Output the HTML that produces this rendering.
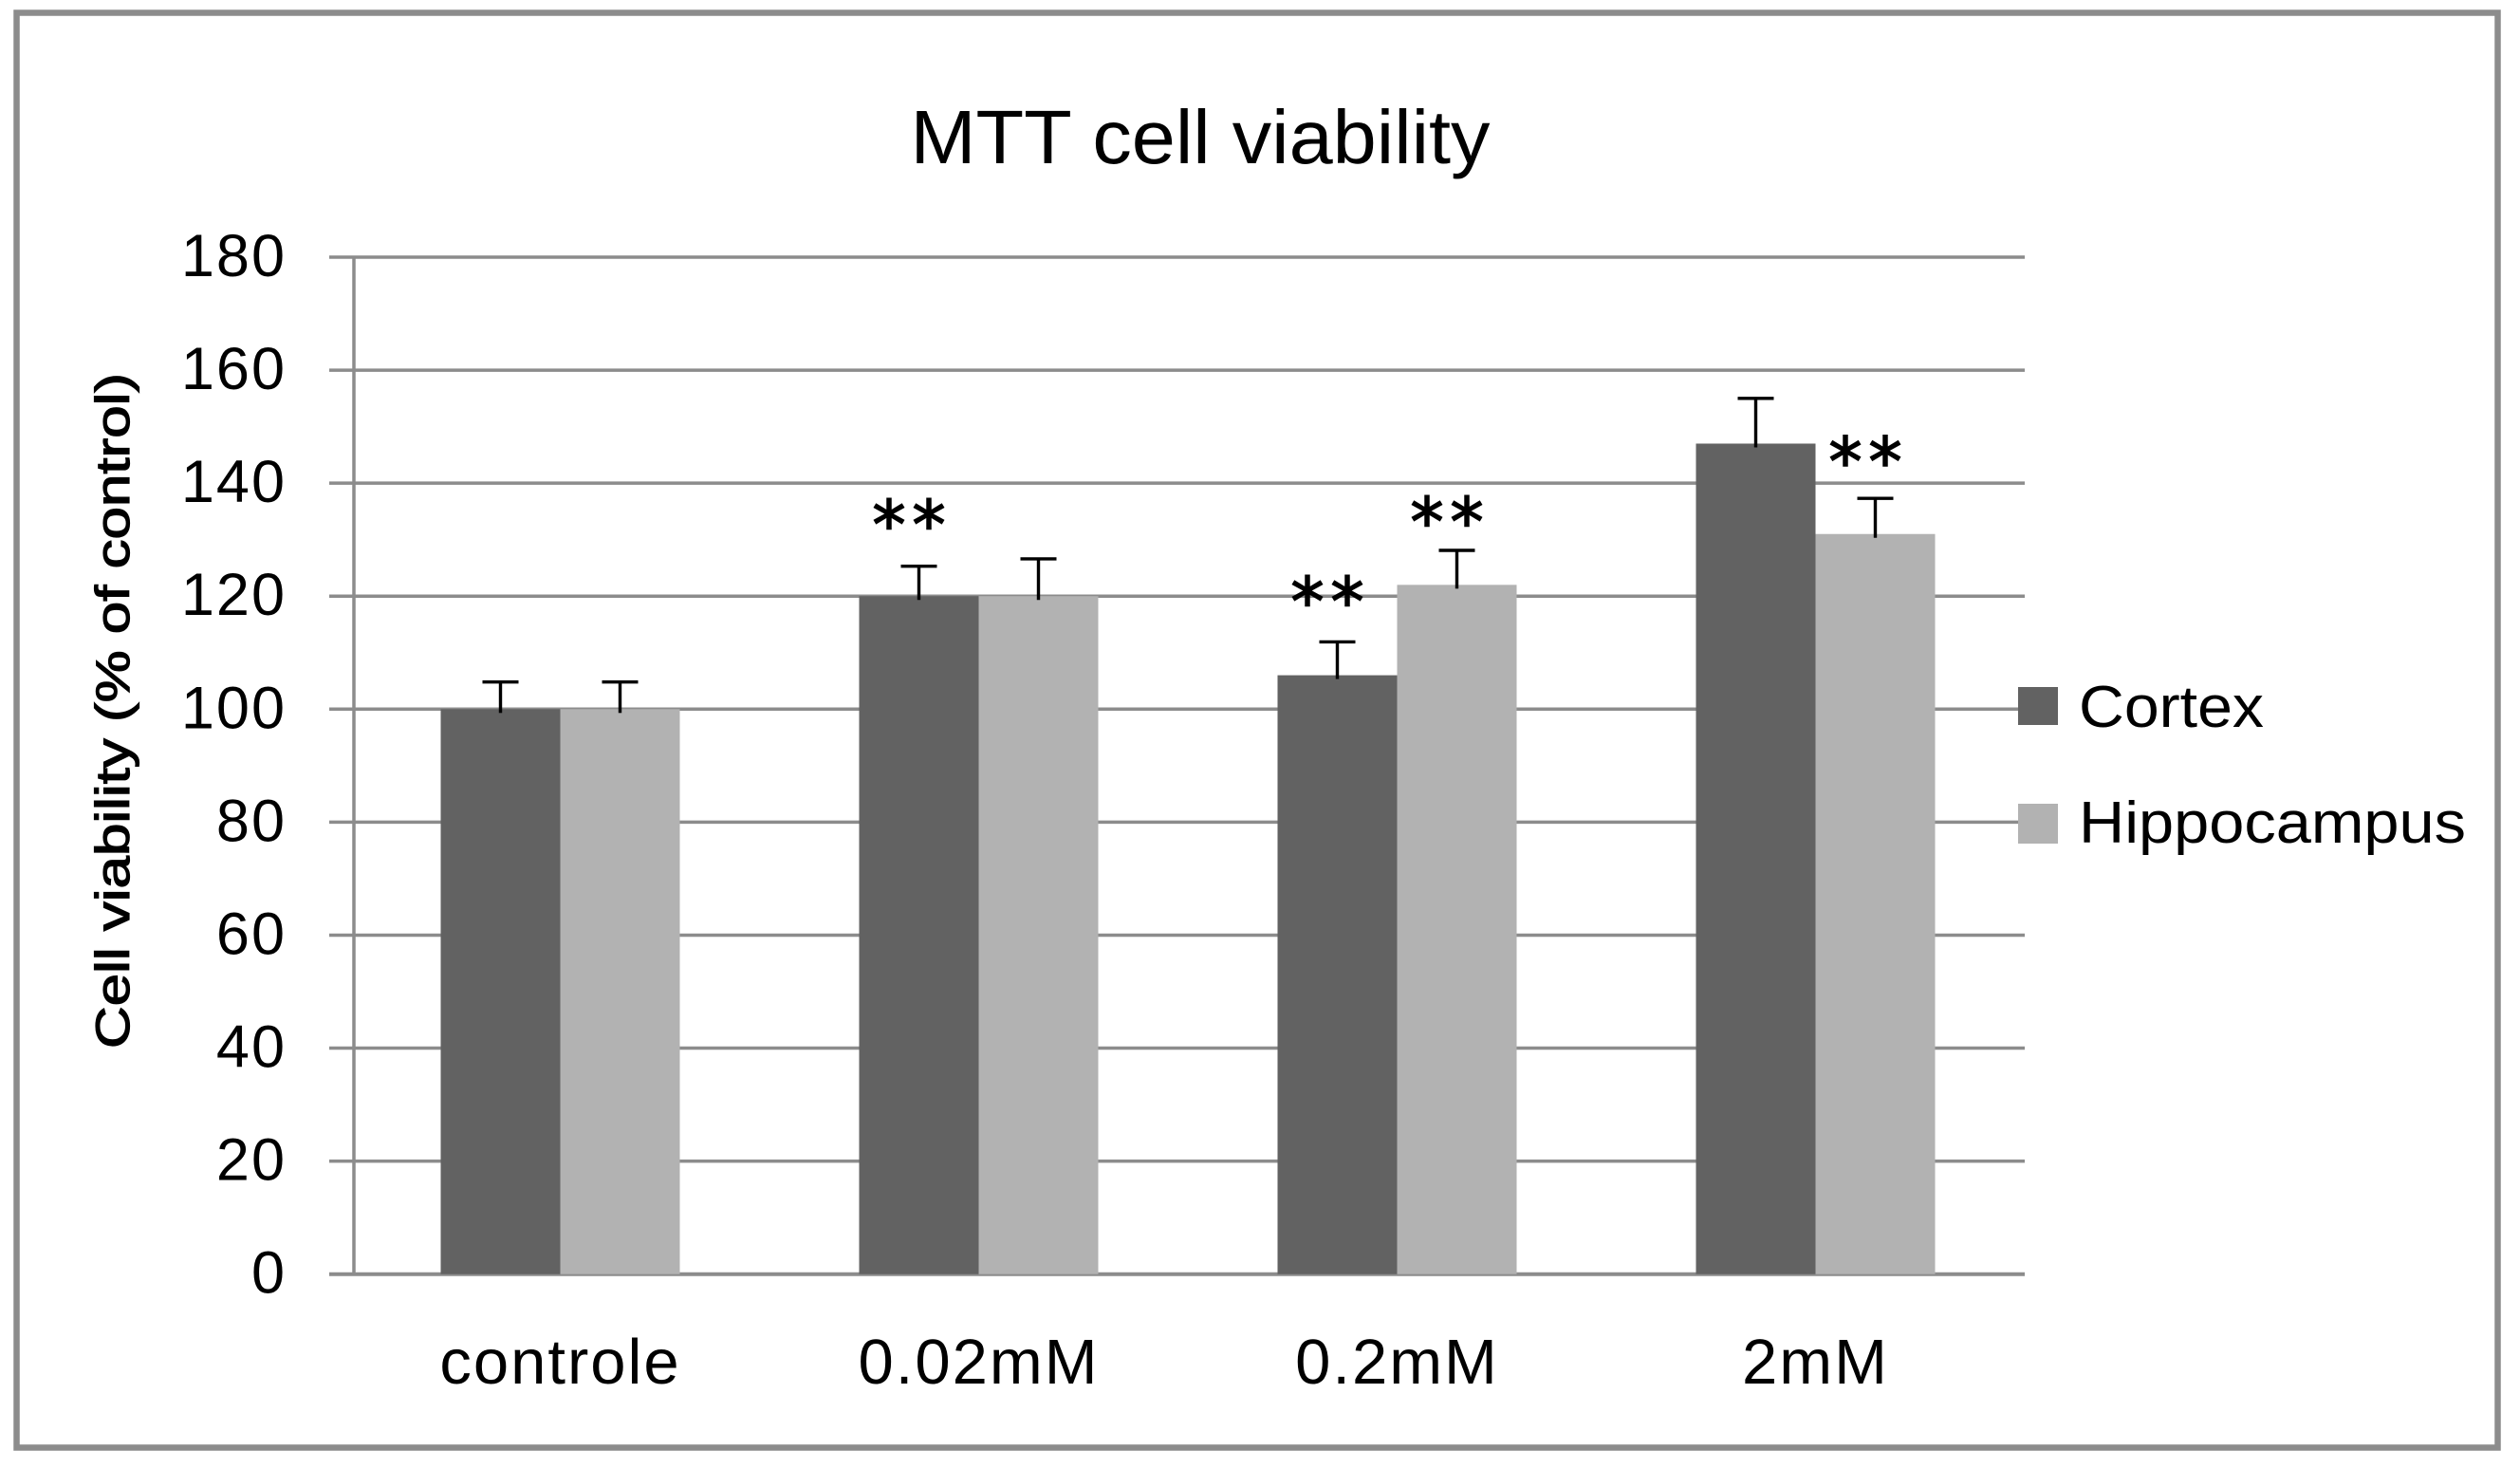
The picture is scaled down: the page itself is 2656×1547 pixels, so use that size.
<!DOCTYPE html>
<html lang="en">
<head>
<meta charset="utf-8">
<title>MTT cell viability</title>
<style>
  html, body { margin: 0; padding: 0; background: #fff; }
  svg { display: block; }
  text { font-family: "Liberation Sans", sans-serif; fill: #000; }
</style>
</head>
<body>
<svg id="chart" xmlns="http://www.w3.org/2000/svg" width="2656" height="1547" viewBox="0 0 2656 1547">
  <rect x="17.5" y="13.5" width="2615" height="1512" fill="#fff" stroke="#8c8c8c" stroke-width="6.5"/>
  <text x="1265" y="172" font-size="80" text-anchor="middle" textLength="611" lengthAdjust="spacingAndGlyphs">MTT cell viability</text>
  <text transform="translate(136 749) rotate(-90)" font-size="50" stroke="#000" stroke-width="1.2" text-anchor="middle" textLength="712" lengthAdjust="spacingAndGlyphs">Cell viability (% of control)</text>
  <g id="grid"></g>
  <g id="yticks"></g>
  <g id="bars"></g>
  <g id="errors"></g>
  <g id="marks"></g>
  <g id="xticks"></g>
  <g>
    <rect x="2127" y="724" width="42" height="40" fill="#626262"/>
    <text x="2191" y="766" font-size="62" textLength="195" lengthAdjust="spacingAndGlyphs">Cortex</text>
    <rect x="2127" y="847" width="42" height="42" fill="#b2b2b2"/>
    <text x="2191" y="888" font-size="62" textLength="408" lengthAdjust="spacingAndGlyphs">Hippocampus</text>
  </g>
</svg>
<script>
const categories = ["controle", "0.02mM", "0.2mM", "2mM"];
const cortexValues = [100, 120, 106, 147];
const hippocampusValues = [100, 120, 122, 131];
const cortexErrors = [4.8, 5.3, 5.9, 8];
const hippocampusErrors = [4.8, 6.6, 6.1, 6.3];
const cortexMarkLevels = [null, 134.2, 120.6, null];
const hippocampusMarkLevels = [null, null, 134.7, 145.4];
const yTicks = [0, 20, 40, 60, 80, 100, 120, 140, 160, 180];

const NS = "http://www.w3.org/2000/svg";
const plotLeft = 373, plotRight = 2134, slotRight = 2137, tickLeft = 347;
const y0 = 1342.7, yTop = 271, yMax = 180;
const yScale = v => y0 - v * (y0 - yTop) / yMax;
const groupWidth = (slotRight - plotLeft) / categories.length;
const xCenter = i => plotLeft + groupWidth * (i + 0.5) - 3;
const barWidth = 126;
const darkColor = "#626262", lightColor = "#b2b2b2", lineColor = "#8c8c8c";

function make(tag, parentId, attrs) {
  const el = document.createElementNS(NS, tag);
  for (const k in attrs) el.setAttribute(k, attrs[k]);
  document.getElementById(parentId).appendChild(el);
  return el;
}

yTicks.forEach(v => {
  const line = make("line", "grid", { x1: tickLeft, x2: plotRight, y1: yScale(v), y2: yScale(v), stroke: lineColor, "stroke-width": v === 0 ? 4 : 3.5 });
  
  
  const label = make("text", "yticks", { x: 302, y: yScale(v) + 20, "font-size": 63, "text-anchor": "end", "letter-spacing": 2 });
  label.textContent = String(v);
  
  
});

const yAxis = make("line", "grid", { x1: plotLeft, x2: plotLeft, y1: yScale(yMax), y2: yScale(0), stroke: lineColor, "stroke-width": 3.5 });



function drawSeries(values, errors, markLevels, side, color, seriesName) {
  values.forEach((v, i) => {
    const left = side < 0 ? xCenter(i) - barWidth : xCenter(i);
    const bar = make("rect", "bars", { x: left, y: yScale(v), width: barWidth, height: yScale(0) - yScale(v), fill: color });
    
    bar.setAttribute('data-series', seriesName);
    

    const cx = left + barWidth / 2;
    const topY = yScale(v + errors[i]);
    const stem = make("line", "errors", { x1: cx, x2: cx, y1: topY, y2: yScale(v) + 4, stroke: "#000", "stroke-width": 3.4 });
    
    
    const cap = make("line", "errors", { x1: cx - 19, x2: cx + 19, y1: topY, y2: topY, stroke: "#000", "stroke-width": 3.4 });
    
    

    if (markLevels[i] !== null) {
      const mark = make("text", "marks", { x: cx - 7, y: yScale(markLevels[i]) + 34, "font-size": 70, "text-anchor": "middle", "letter-spacing": 7, stroke: "#000", "stroke-width": 1.6 });
      mark.style.fontFamily = '"DejaVu Sans", sans-serif';
      mark.textContent = "**";
      
      
    }
  });
}
drawSeries(cortexValues, cortexErrors, cortexMarkLevels, -1, darkColor, "Cortex");
drawSeries(hippocampusValues, hippocampusErrors, hippocampusMarkLevels, 1, lightColor, "Hippocampus");

categories.forEach((c, i) => {
  const label = make("text", "xticks", { x: xCenter(i), y: 1458, "font-size": 67, "text-anchor": "middle", "letter-spacing": 2 });
  label.textContent = c;
  
  
});
</script>
</body>
</html>
